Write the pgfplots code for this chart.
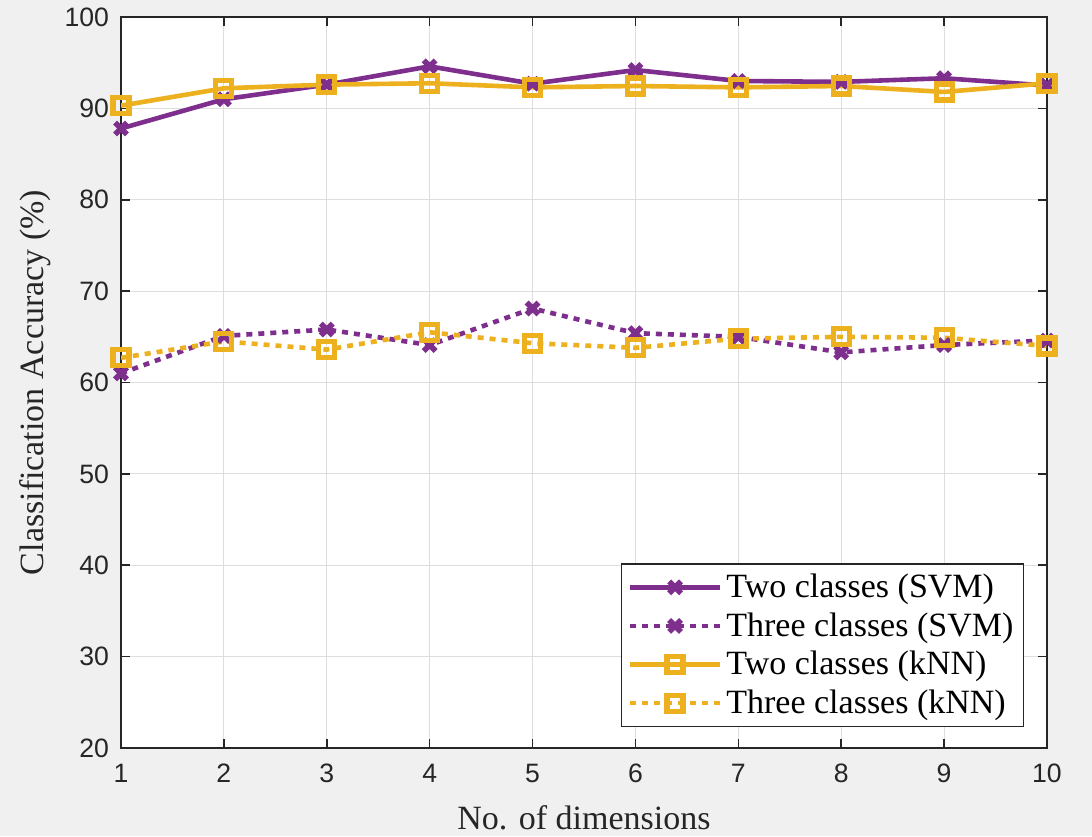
\documentclass[border=0pt]{standalone}
\usepackage{pgfplots}
\pgfplotsset{compat=1.18}
\usepackage{fontspec}
\setmainfont{Liberation Serif}
\newfontfamily\ticksf{Liberation Sans}
\definecolor{mpurple}{RGB}{126,47,142}
\definecolor{myellow}{RGB}{237,177,32}
\definecolor{axc}{RGB}{38,38,38}
\definecolor{bgc}{RGB}{240,240,240}
\definecolor{gridc}{RGB}{222,222,222}
\begin{document}
\begin{tikzpicture}
\fill[bgc] (-60.5pt,-44pt) rectangle (485.5pt,374pt);
\begin{axis}[
  at={(0,0)}, anchor=south west,
  scale only axis, width=463pt, height=365.5pt,
  xmin=1, xmax=10, ymin=20, ymax=100,
  xtick={1,...,10}, ytick={20,30,...,100},
  axis background/.style={fill=white},
  axis line style={axc, line width=0.9pt},
  tick style={axc, line width=0.8pt},
  major tick length=4.5pt,
  tick align=inside,
  xtick pos=both, ytick pos=both,
  grid=major,
  major grid style={gridc, line width=0.6pt},
  /pgf/number format/assume math mode=true,
  tick label style={font=\ticksf\fontsize{13.3pt}{15pt}\selectfont, text=axc},
  xticklabel style={yshift=-4.5pt},
  yticklabel style={xshift=-2.5pt},
  label style={font=\fontsize{17pt}{19pt}\selectfont, text=axc},
  xlabel={No. of dimensions},
  ylabel={Classification Accuracy (\%)},
  xlabel style={at={(axis description cs:0.5,-0.0958)}, anchor=center},
  ylabel style={at={(axis description cs:-0.0929,0.5)}, anchor=center},
  legend style={at={(axis cs:10,20)}, anchor=south east, xshift=-11.5pt, yshift=10.5pt,
    draw=axc, line width=0.6pt, fill=white,
    font=\fontsize{17pt}{19pt}\selectfont, row sep=2pt, inner sep=3pt},
  legend cell align=left,
  legend image code/.code={
    \draw[#1] (0pt,0pt) -- (45pt,0pt);
    \draw[#1, solid] plot coordinates {(22.5pt,0pt)};
  },
  every axis plot/.append style={line width=2.3pt},
]
\addplot[mpurple, mark=x, mark size=4.2pt, mark options={solid, line width=2.8pt}]
coordinates {(1,87.8)(2,91.0)(3,92.6)(4,94.6)(5,92.7)(6,94.2)(7,93.0)(8,92.9)(9,93.3)(10,92.5)};
\addlegendentry{Two classes (SVM)}
\addplot[mpurple, dash pattern=on 3pt off 3pt, mark=x, mark size=4.2pt, mark options={solid, line width=2.8pt}]
coordinates {(1,61.0)(2,65.1)(3,65.8)(4,64.1)(5,68.1)(6,65.4)(7,65.0)(8,63.3)(9,64.1)(10,64.6)};
\addlegendentry{Three classes (SVM)}
\addplot[myellow, mark=square, mark size=4pt, mark options={solid, line width=2.6pt}]
coordinates {(1,90.3)(2,92.2)(3,92.6)(4,92.75)(5,92.3)(6,92.45)(7,92.3)(8,92.45)(9,91.8)(10,92.75)};
\addlegendentry{Two classes (kNN)}
\addplot[myellow, dash pattern=on 3pt off 3pt, mark=square, mark size=4pt, mark options={solid, line width=2.6pt}]
coordinates {(1,62.7)(2,64.5)(3,63.6)(4,65.5)(5,64.3)(6,63.8)(7,64.8)(8,65.0)(9,64.9)(10,64.0)};
\addlegendentry{Three classes (kNN)}
\end{axis}
\end{tikzpicture}
\end{document}
